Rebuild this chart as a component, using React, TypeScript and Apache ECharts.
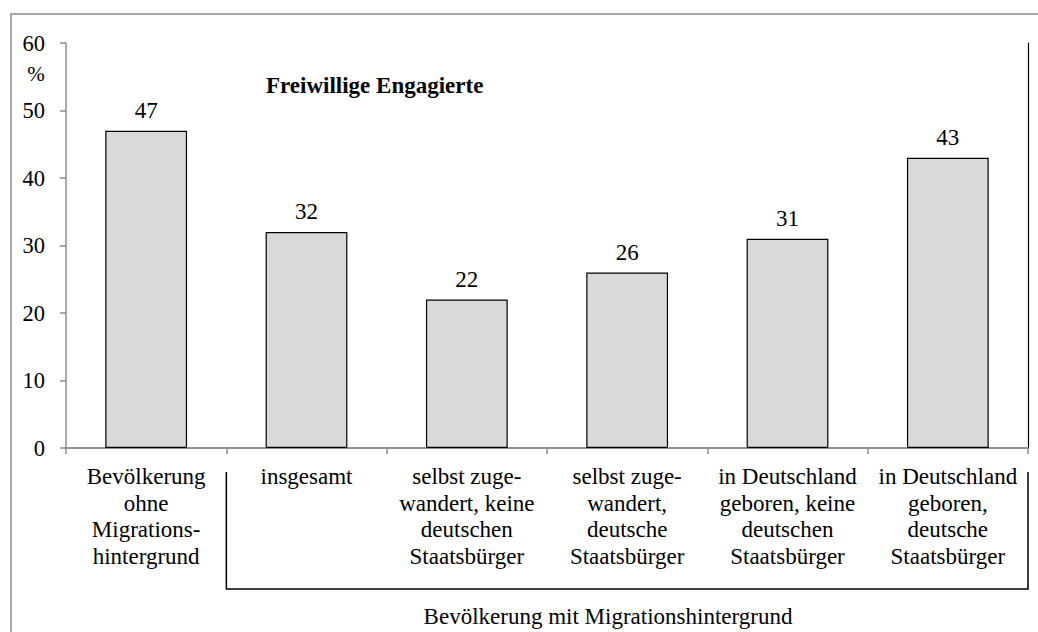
import React, { useEffect, useRef } from "react";
import * as echarts from "echarts";

const categories = [
  "Bevölkerung\nohne\nMigrations-\nhintergrund",
  "insgesamt",
  "selbst zuge-\nwandert, keine\ndeutschen\nStaatsbürger",
  "selbst zuge-\nwandert,\ndeutsche\nStaatsbürger",
  "in Deutschland\ngeboren, keine\ndeutschen\nStaatsbürger",
  "in Deutschland\ngeboren,\ndeutsche\nStaatsbürger",
];
const values = [47, 32, 22, 26, 31, 43];
const yTicks = [0, 10, 20, 30, 40, 50, 60];
const titleText = "Freiwillige Engagierte";
const unitText = "%";
const groupText = "Bevölkerung mit Migrationshintergrund";

const FONT = "Liberation Serif";

export default function App() {
  const ref = useRef<HTMLDivElement>(null);
  useEffect(() => {
    if (!ref.current) return;
    const chart = echarts.init(ref.current, null, { renderer: "svg" });
    const grid = { left: 66, right: 10, top: 43, bottom: 184 };
    chart.setOption({
      animation: false,
      backgroundColor: "#ffffff",
      grid: { ...grid, containLabel: false },
      xAxis: [
        {
          type: "category",
          data: categories,
          axisLine: { show: true, lineStyle: { color: "#8c8c8c", width: 1.5 } },
          axisTick: { show: true, interval: 0, length: 6, lineStyle: { color: "#8c8c8c", width: 1.5 } },
          axisLabel: {
            interval: 0,
            margin: 15,
            fontFamily: FONT,
            fontSize: 23,
            lineHeight: 26.7,
            color: "#000",
          },
        },
        {
          type: "category",
          position: "top",
          data: categories,
          axisLine: { show: true, lineStyle: { color: "#8c8c8c", width: 1.5 } },
          axisTick: { show: false },
          axisLabel: { show: false },
        },
      ],
      yAxis: [
        {
          type: "value",
          min: yTicks[0],
          max: yTicks[yTicks.length - 1],
          interval: 10,
          axisLine: { show: true, lineStyle: { color: "#8c8c8c", width: 1.5 } },
          axisTick: { show: true, length: 6, lineStyle: { color: "#8c8c8c", width: 1.5 } },
          splitLine: { show: false },
          axisLabel: { margin: 21, fontFamily: FONT, fontSize: 22.5, color: "#000" },
        },
        {
          type: "value",
          position: "right",
          min: yTicks[0],
          max: yTicks[yTicks.length - 1],
          interval: 10,
          axisLine: { show: true, lineStyle: { color: "#000", width: 1.2 } },
          axisTick: { show: false },
          splitLine: { show: false },
          axisLabel: { show: false },
        },
      ],
      series: [
        {
          type: "bar",
          data: values,
          barWidth: "51%",
          itemStyle: { color: "#d9d9d9", borderColor: "#000", borderWidth: 1.2 },
          label: {
            show: true,
            position: "top",
            distance: 9,
            fontFamily: FONT,
            fontSize: 23,
            color: "#000",
          },
        },
      ],
    });

    const p0 = chart.convertToPixel({ xAxisIndex: 0 }, 0) as number;
    const p1 = chart.convertToPixel({ xAxisIndex: 0 }, 1) as number;
    const pLast = chart.convertToPixel({ xAxisIndex: 0 }, categories.length - 1) as number;
    const half = (p1 - p0) / 2;
    const bx0 = p0 + half;
    const bx1 = pLast + half;
    const yTop = 472;
    const yBot = 589;

    chart.setOption({
      graphic: [
        {
          type: "rect",
          shape: { x: 11, y: 14, width: 1060, height: 660 },
          style: { fill: "none", stroke: "#8c8c8c", lineWidth: 1.5 },
          silent: true,
        },
        {
          type: "polyline",
          shape: { points: [[bx0, yTop], [bx0, yBot], [bx1, yBot], [bx1, yTop]] },
          style: { fill: "none", stroke: "#000", lineWidth: 1.5 },
          silent: true,
        },
        {
          type: "text",
          x: 608,
          y: 616,
          style: {
            text: groupText,
            fontFamily: FONT,
            fontSize: 23,
            fill: "#000",
            textAlign: "center",
            textVerticalAlign: "middle",
          },
        },
        {
          type: "text",
          x: 266,
          y: 85,
          style: {
            text: titleText,
            fontFamily: FONT,
            fontSize: 23,
            fontWeight: "bold",
            fill: "#000",
            textAlign: "left",
            textVerticalAlign: "middle",
          },
        },
        {
          type: "text",
          x: 36,
          y: 74,
          style: {
            text: unitText,
            fontFamily: FONT,
            fontSize: 21,
            fill: "#000",
            textAlign: "center",
            textVerticalAlign: "middle",
          },
        },
      ],
    });

    return () => chart.dispose();
  }, []);
  return (
    <div
      ref={ref}
      style={{ position: "fixed", left: 0, top: 0, width: 1038, height: 632, background: "#fff" }}
    />
  );
}
